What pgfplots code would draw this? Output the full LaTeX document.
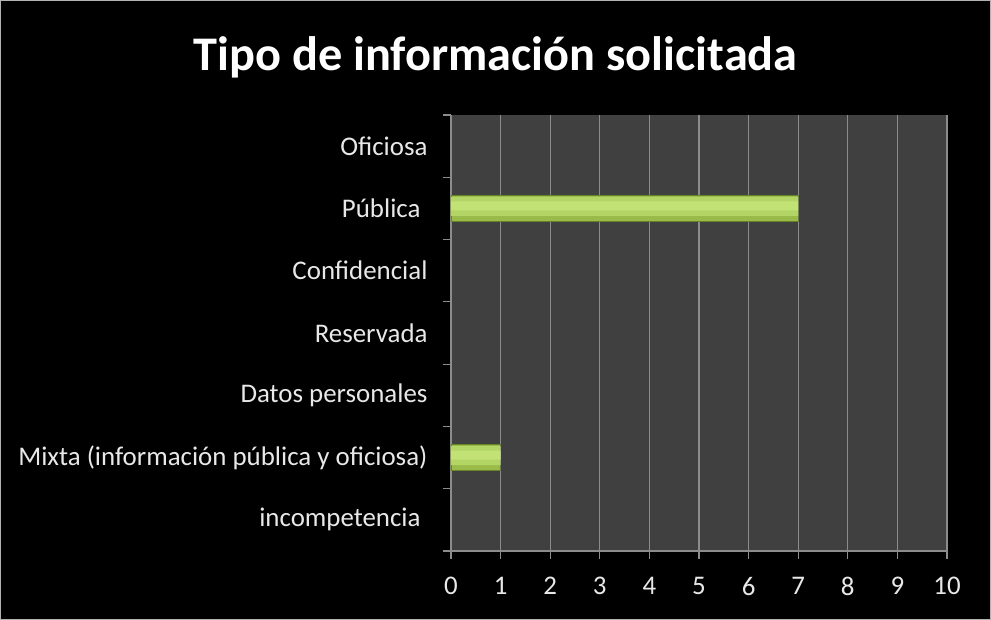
\documentclass[border=0pt]{standalone}
\usepackage{fontspec}
\setmainfont{Carlito}
\usepackage{pgfplots}
\pgfplotsset{compat=1.18}
\definecolor{plotbg}{HTML}{404040}
\definecolor{gridc}{HTML}{8C8C8C}
\definecolor{txt}{HTML}{E8E8E8}
\definecolor{barbase}{HTML}{9ABA4A}
\definecolor{barmid}{HTML}{B3D566}
\definecolor{barhi}{HTML}{C2E275}
\definecolor{bardraw}{HTML}{66832A}
\begin{document}
\begin{tikzpicture}[x=1bp,y=1bp]
\fill[black] (0,0) rectangle (991,620);
\draw[gray!60, line width=1bp] (0.5,0.5) rectangle (990.5,619.5);
\node[anchor=base, font=\fontsize{48.5}{58}\selectfont\bfseries, text=white] at (495.5,549) {Tipo de información solicitada};
\begin{axis}[
  at={(451bp,69bp)}, anchor=south west,
  width=496bp, height=436bp, scale only axis,
  xbar,
  xmin=0, xmax=10, ymin=-0.5, ymax=6.5,
  axis background/.style={fill=plotbg},
  axis line style={draw=gridc, line width=1.2bp},
  axis x line*=bottom, axis y line*=left,
  xtick={0,...,10},
  xmajorgrids, major grid style={draw=gridc, line width=1.2bp},
  ytick={0,...,6},
  yticklabels={incompetencia\kern7bp, {Mixta (información pública y oficiosa)}, Datos personales, Reservada, Confidencial, Pública\kern7bp, Oficiosa},
  minor ytick={-0.5,0.5,...,6.5},
  tick style={draw=gridc, line width=1.2bp},
  xtick align=outside, ytick align=outside,
  major tick length=8bp, minor tick length=8bp,
  major y tick style={draw=none},
  tick label style={font=\fontsize{27}{31}\selectfont, text=txt},
  /pgf/number format/assume math mode=true,
  xticklabel style={yshift=-15bp},
  yticklabel style={xshift=-12bp},
  restrict x to domain=0.5:20,
]
\addplot[draw=bardraw, line width=1bp, fill=barbase, bar width=26bp, bar shift=0bp]
  coordinates {(0,0) (1,1) (0,2) (0,3) (0,4) (7,5) (0,6)};
\addplot[draw=none, fill=barmid, bar width=19bp, bar shift=2bp]
  coordinates {(0,0) (1,1) (0,2) (0,3) (0,4) (7,5) (0,6)};
\addplot[draw=none, fill=barhi, bar width=9bp, bar shift=2.5bp]
  coordinates {(0,0) (1,1) (0,2) (0,3) (0,4) (7,5) (0,6)};
\end{axis}
\end{tikzpicture}
\end{document}
